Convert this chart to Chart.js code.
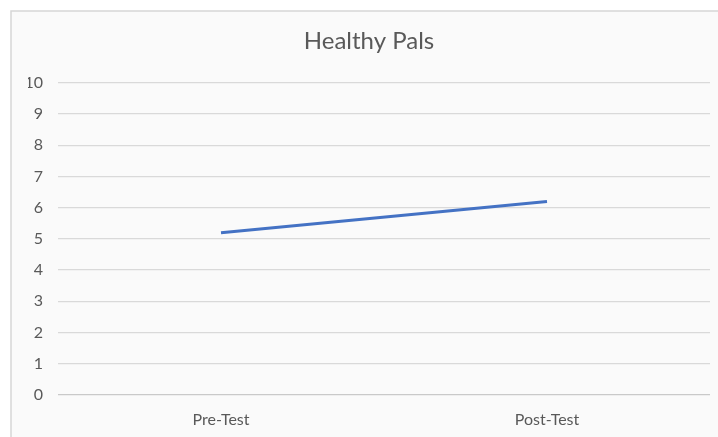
<!DOCTYPE html>
<html>
<head>
<meta charset="utf-8">
<script src="https://cdn.jsdelivr.net/npm/chart.js@4"></script>
<style>
  html, body { margin: 0; padding: 0; background: #ffffff; }
  #wrap { width: 718px; height: 437px; position: relative; }
</style>
</head>
<body>
<div id="wrap"><canvas id="c" width="718" height="437"></canvas></div>
<script>
const chartTitle = 'Healthy Pals';
const categories = ['Pre-Test', 'Post-Test'];
const scores = [5.2, 6.2];
const yMin = 0;
const yMax = 10;
const yStep = 1;

const textColor = '#595959';
const gridColor = '#d9d9d9';
const baseLineColor = '#c9c9c9';
const lineColor = '#4472c4';

// Panel background with a thin frame on its top and left edges
const panelFrame = {
  id: 'panelFrame',
  beforeDraw(chart) {
    const ctx = chart.ctx;
    ctx.save();
    ctx.fillStyle = '#fafafa';
    ctx.fillRect(11, 11, chart.width - 11, chart.height - 11);
    ctx.strokeStyle = '#d6d6d6';
    ctx.lineWidth = 1.5;
    ctx.beginPath();
    ctx.moveTo(11, chart.height);
    ctx.lineTo(11, 11);
    ctx.lineTo(chart.width, 11);
    ctx.stroke();
    ctx.restore();
  }
};

new Chart(document.getElementById('c'), {
  type: 'line',
  data: {
    labels: categories,
    datasets: [{
      label: chartTitle,
      data: scores,
      borderColor: lineColor,
      borderWidth: 3,
      pointRadius: 0,
      pointHoverRadius: 0,
      tension: 0,
      fill: false
    }]
  },
  options: {
    responsive: false,
    animation: false,
    layout: { padding: { left: 28, right: 8, top: 0, bottom: 0 } },
    plugins: {
      legend: { display: false },
      tooltip: { enabled: false },
      title: {
        display: true,
        text: chartTitle,
        color: textColor,
        font: { family: 'Lato', size: 24, weight: 'normal' },
        padding: { top: 27, bottom: 27 }
      }
    },
    scales: {
      x: {
        offset: true,
        grid: { display: false },
        border: { display: false },
        ticks: {
          color: textColor,
          font: { family: 'Lato', size: 16 },
          padding: 7,
          maxRotation: 0
        },
        afterFit(scale) { scale.height = 42; }
      },
      y: {
        min: yMin,
        max: yMax,
        grid: {
          drawTicks: false,
          color: (c) => (c.tick && c.tick.value === 0 ? baseLineColor : gridColor),
          lineWidth: 1.3
        },
        border: { display: false },
        ticks: {
          stepSize: yStep,
          color: textColor,
          font: { family: 'Lato', size: 16 },
          padding: 15
        },
        afterFit(scale) { scale.width = 30; }
      }
    }
  },
  plugins: [panelFrame]
});
</script>
</body>
</html>
